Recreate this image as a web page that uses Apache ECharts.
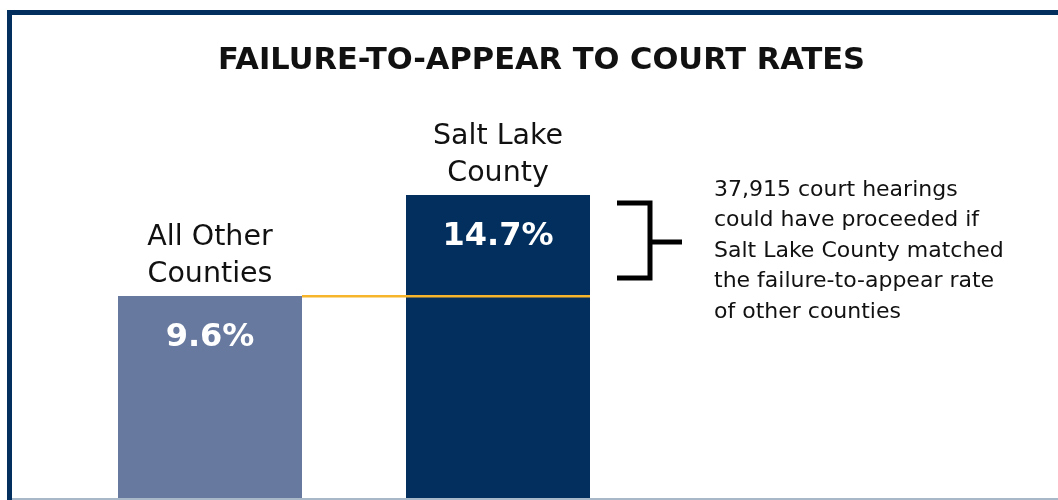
<!DOCTYPE html>
<html>
<head>
<meta charset="utf-8">
<script src="https://cdn.jsdelivr.net/npm/echarts@6/dist/echarts.min.js"></script>
<style>
  html, body { margin: 0; padding: 0; background: #ffffff; }
  #chart { width: 1058px; height: 500px; }
</style>
</head>
<body>
<div id="chart"></div>
<script>
const categories = ['All Other\nCounties', 'Salt Lake\nCounty'];
const rates = [9.6, 14.7];
const barColors = ['#67799E', '#022F5E'];
const titleText = 'FAILURE-TO-APPEAR TO COURT RATES';
const noteText = '37,915 court hearings\ncould have proceeded if\nSalt Lake County matched\nthe failure-to-appear rate\nof other counties';

const FONT = 'DejaVu Sans';
const BAR_W = 184;

const chart = echarts.init(document.getElementById('chart'), null, { renderer: 'canvas' });

const option = {
  backgroundColor: '#ffffff',
  animation: false,
  title: {
    text: titleText,
    left: 213,
    top: 41,
    textStyle: { fontFamily: FONT, fontWeight: 'bold', fontSize: 30.5, color: '#111111' }
  },
  grid: { left: 66, width: 576, top: 90, bottom: 0, containLabel: false },
  xAxis: {
    type: 'category',
    data: categories,
    show: false
  },
  yAxis: {
    type: 'value',
    min: -0.7,
    max: 20,
    startValue: -0.7,
    show: false,
    splitLine: { show: false }
  },
  series: [
    {
      type: 'bar',
      barWidth: BAR_W,
      clip: false,
      data: rates.map((v, i) => ({ value: v, itemStyle: { color: barColors[i] } })),
      label: {
        show: true,
        position: 'insideTop',
        distance: 26,
        formatter: p => p.value.toFixed(1) + '%',
        fontFamily: FONT,
        fontWeight: 'bold',
        fontSize: 32,
        color: '#ffffff'
      },
      z: 2
    },
    {
      type: 'scatter',
      symbolSize: 0,
      itemStyle: { opacity: 1 },
      data: rates,
      label: {
        show: true,
        position: 'top',
        distance: 3,
        formatter: p => categories[p.dataIndex],
        fontFamily: FONT,
        fontSize: 28.5,
        lineHeight: 37,
        color: '#111111',
        opacity: 1,
        align: 'center'
      },
      z: 3
    }
  ]
};
chart.setOption(option);

// derived overlay: reference line at the other counties' rate, bracket and note
const yRef = Math.round(chart.convertToPixel({ yAxisIndex: 0 }, rates[0]));
const x0 = chart.convertToPixel({ xAxisIndex: 0 }, 0) + BAR_W / 2;
const x1 = chart.convertToPixel({ xAxisIndex: 0 }, 1) + BAR_W / 2;

chart.setOption({
  graphic: [
    { type: 'rect', shape: { x: 7, y: 10, width: 1051, height: 5 }, style: { fill: '#022F5E' }, z: 10 },
    { type: 'rect', shape: { x: 7, y: 10, width: 5, height: 490 }, style: { fill: '#022F5E' }, z: 10 },
    { type: 'rect', shape: { x: 12, y: 498, width: 1046, height: 2 }, style: { fill: '#A9B8C8' }, z: 10 },
    { type: 'rect', shape: { x: x0, y: yRef - 1, width: x1 - x0, height: 2.5 }, style: { fill: '#F7B52C' }, z: 20 },
    { type: 'polyline', shape: { points: [[617, 203], [650, 203], [650, 278], [617, 278]] }, style: { stroke: '#000000', lineWidth: 5, fill: null }, z: 20 },
    { type: 'line', shape: { x1: 650, y1: 242, x2: 682, y2: 242 }, style: { stroke: '#000000', lineWidth: 5 }, z: 20 },
    { type: 'text', x: 714, y: 175, style: { text: noteText, fontFamily: FONT, fontSize: 22, lineHeight: 30.5, fill: '#111111', textVerticalAlign: 'top' }, z: 20 }
  ]
});
</script>
</body>
</html>
